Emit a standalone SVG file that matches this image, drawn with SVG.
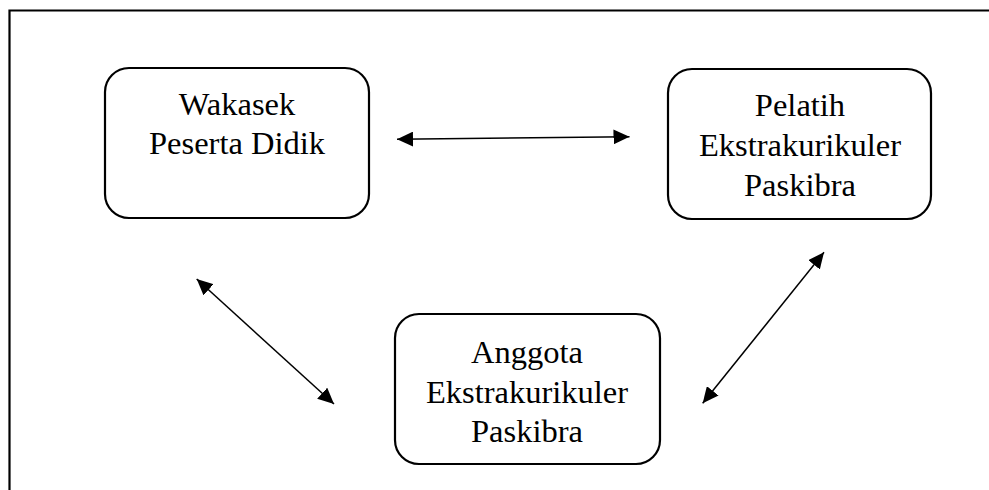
<svg xmlns="http://www.w3.org/2000/svg" width="989" height="490" viewBox="0 0 989 490">
<defs>
<marker id="ah" markerUnits="userSpaceOnUse" markerWidth="17" markerHeight="15" refX="16" refY="7.5" orient="auto-start-reverse" viewBox="0 0 17 15">
<path d="M0,0 L16,7.5 L0,15 Z" fill="#000"/>
</marker>
<style>
.box{fill:#fff;stroke:#000;stroke-width:2.2}
.t{font-size:32.5px;fill:#000;text-anchor:middle}
.c{stroke:#000;stroke-width:1.5;fill:none;marker-start:url(#ah);marker-end:url(#ah)}
.frame{stroke:#000;stroke-width:2.2;fill:none}
</style>
</defs>
<rect width="989" height="490" fill="#fff"/>
<path class="frame" d="M9.5,490 L9.5,10.5 L989,10.5"/>
<g font-family="Liberation Serif, Times New Roman, serif">
<g id="wakasek">
<rect class="box" x="105" y="68" width="264" height="150" rx="24"/>
<text class="t" x="237" y="115">Wakasek</text>
<text class="t" x="237" y="154">Peserta Didik</text>
</g>
<g id="pelatih">
<rect class="box" x="668" y="69" width="263" height="150" rx="24"/>
<text class="t" x="800" y="116">Pelatih</text>
<text class="t" x="800" y="156">Ekstrakurikuler</text>
<text class="t" x="800" y="196">Paskibra</text>
</g>
<g id="anggota">
<rect class="box" x="395" y="314" width="265" height="150" rx="24"/>
<text class="t" x="527" y="363">Anggota</text>
<text class="t" x="527" y="403">Ekstrakurikuler</text>
<text class="t" x="527" y="442">Paskibra</text>
</g>
</g>
<g id="connectors">
<line class="c" x1="397" y1="139.3" x2="629.5" y2="136.7"/>
<line class="c" x1="196.7" y1="279" x2="334" y2="404"/>
<line class="c" x1="824" y1="252.3" x2="702.7" y2="403.3"/>
</g>
</svg>
